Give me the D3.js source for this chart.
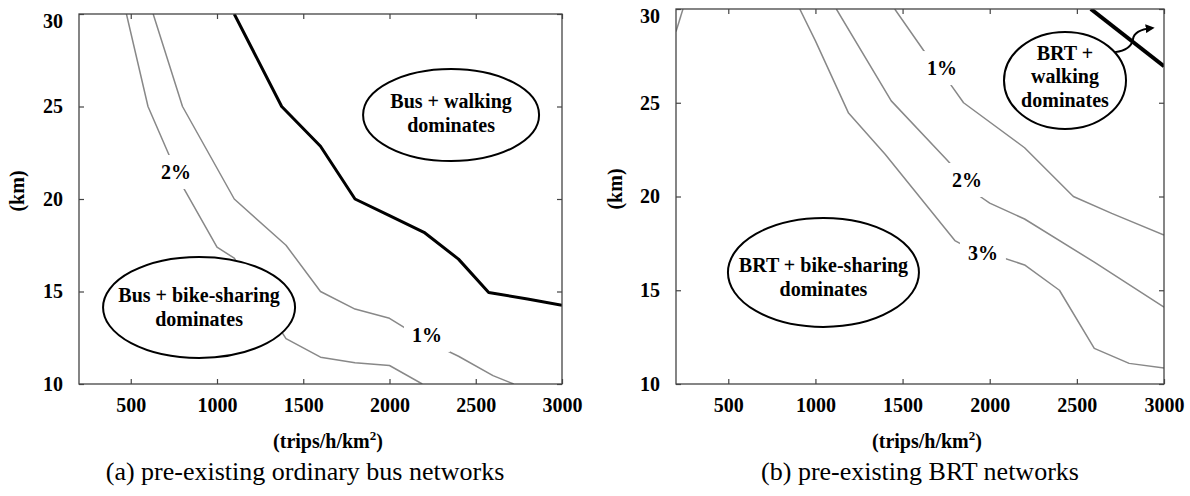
<!DOCTYPE html>
<html>
<head>
<meta charset="utf-8">
<script src="https://cdn.jsdelivr.net/npm/d3@7"></script>
<style>
  body { margin: 0; background: #fff; }
  svg { display: block; font-family: "Liberation Serif", "Times New Roman", serif; }
</style>
</head>
<body>
<svg id="chart" width="1190" height="496"></svg>
<script>
// ticks shared by both panels
const xTicks = [500, 1000, 1500, 2000, 2500, 3000];
const yTicks = [10, 15, 20, 25, 30];

// (a) ordinary bus  -  points are [demand (trips/h/km2), km]
const busWalkBoundary = [[1100, 30], [1375, 25], [1600, 22.85], [1800, 20], [2000, 19.1], [2200, 18.2], [2400, 16.75], [2575, 14.95], [2800, 14.6], [3000, 14.25]];
const bus1pct = [[630, 30], [800, 25], [1100, 20], [1400, 17.5], [1600, 15], [1800, 14.05], [2000, 13.55], [2200, 12.4], [2400, 11.5], [2600, 10.45], [2720, 10]];
const bus2pct = [[475, 30], [600, 25], [800, 20.7], [1000, 17.4], [1100, 16.8], [1400, 12.45], [1600, 11.45], [1800, 11.15], [2000, 11.0], [2190, 10]];

// (b) BRT
const brtWalkBoundary = [[2580, 30], [3000, 26.95]];
const brt1pct = [[1455, 30], [1620, 27.8], [1770, 26.05], [1850, 25.0], [2200, 22.6], [2480, 20], [2700, 19.1], [3000, 17.95]];
const brt2pct = [[1120, 30], [1435, 25.1], [1755, 21.95], [1945, 20], [2000, 19.65], [2200, 18.8], [2600, 16.5], [3000, 14.1]];
const brt3pct = [[910, 30], [1000, 28.3], [1190, 24.45], [1400, 22.25], [1800, 17.65], [1840, 17.45], [2200, 16.35], [2400, 15.0], [2600, 11.9], [2800, 11.1], [3000, 10.85]];
const brt4pct = [[200, 28.8], [240, 30]];

const captions = ["(a) pre-existing ordinary bus networks", "(b) pre-existing BRT networks"];

const panels = [
    {
        left: 79, right: 562, top: 14, bottom: 384,
        captionX: 305, titleX: 328, kmX: 17, kmY: 191,
        lines: [
            { data: bus2pct, color: "#888", width: 1.5 },
            { data: bus1pct, color: "#888", width: 1.5 },
            { data: busWalkBoundary, color: "#000", width: 3 }
        ],
        labels: [{ text: "2%", at: [762, 21.46] }, { text: "1%", at: [2217, 12.65] }],
        regions: [
            { lines: ["Bus + walking", "dominates"], at: [2357, 24.54], rx: 88, ry: 46, dy: -7 },
            { lines: ["Bus + bike-sharing", "dominates"], at: [896, 14.14], rx: 96, ry: 50.5, dy: -5 }
        ],
        caption: captions[0]
    },
    {
        left: 676, right: 1164, top: 9, bottom: 384,
        captionX: 920, titleX: 927, kmX: 615, kmY: 189,
        lines: [
            { data: brt4pct, color: "#888", width: 1.5 },
            { data: brt3pct, color: "#888", width: 1.5 },
            { data: brt2pct, color: "#888", width: 1.5 },
            { data: brt1pct, color: "#888", width: 1.5 },
            { data: brtWalkBoundary, color: "#000", width: 4 }
        ],
        labels: [{ text: "1%", at: [1726, 26.85] }, { text: "2%", at: [1870, 20.88] }, { text: "3%", at: [1961, 16.99] }],
        regions: [
            { lines: ["BRT +", "walking", "dominates"], at: [2432, 26.19], rx: 61, ry: 48.5, dy: -20.5,
              arrow: { from: [2719, 27.7], to: [2931, 28.99] } },
            { lines: ["BRT + bike-sharing", "dominates"], at: [1046, 15.95], rx: 95.5, ry: 54.5, dy: 0 }
        ],
        caption: captions[1]
    }
];

const svg = d3.select("#chart");

svg.append("defs").append("marker")
    .attr("id", "arrowhead")
    .attr("viewBox", "0 0 10 10")
    .attr("refX", 7).attr("refY", 5)
    .attr("markerWidth", 4.5).attr("markerHeight", 4.5)
    .attr("orient", "auto")
    .append("path")
    .attr("d", "M0,0L10,5L0,10z")
    .attr("fill", "#000");

panels.forEach((p, pi) => {
    const x = d3.scaleLinear().domain([200, 3000]).range([p.left, p.right]);
    const y = d3.scaleLinear().domain([10, 30]).range([p.bottom, p.top]);
    const g = svg.append("g");

    const clipId = "clip" + pi;
    g.append("clipPath").attr("id", clipId).append("rect")
        .attr("x", p.left).attr("y", p.top)
        .attr("width", p.right - p.left).attr("height", p.bottom - p.top);

    const line = d3.line().x(d => x(d[0])).y(d => y(d[1]));

    // contour lines
    g.append("g").attr("clip-path", `url(#${clipId})`)
        .selectAll("path")
        .data(p.lines)
        .enter().append("path")
        .attr("d", d => line(d.data))
        .attr("fill", "none")
        .attr("stroke", d => d.color)
        .attr("stroke-width", d => d.width)
        .attr("stroke-linejoin", "round");

    // contour labels (white box breaks the line)
    p.labels.forEach(l => {
        const lg = g.append("g");
        const t = lg.append("text")
            .attr("x", x(l.at[0])).attr("y", y(l.at[1]))
            .attr("dy", "0.35em")
            .attr("text-anchor", "middle")
            .attr("font-size", "20px")
            .attr("font-weight", "bold")
            .text(l.text);
        const bb = t.node().getBBox();
        lg.insert("rect", "text")
            .attr("x", bb.x - 8).attr("y", bb.y - 6)
            .attr("width", bb.width + 16).attr("height", bb.height + 12)
            .attr("fill", "#fff");
    });

    // region ellipses
    p.regions.forEach(r => {
        const cx = x(r.at[0]), cy = y(r.at[1]);
        g.append("ellipse")
            .attr("cx", cx).attr("cy", cy)
            .attr("rx", r.rx).attr("ry", r.ry)
            .attr("fill", "#fff")
            .attr("stroke", "#000")
            .attr("stroke-width", 2);
        g.append("g").selectAll("text")
            .data(r.lines)
            .enter().append("text")
            .attr("x", cx)
            .attr("y", (d, i) => cy + r.dy + i * 23.5)
            .attr("text-anchor", "middle")
            .attr("font-size", "20px")
            .attr("font-weight", "bold")
            .text(d => d);

        if (r.arrow) {
            const sx = x(r.arrow.from[0]), sy = y(r.arrow.from[1]);
            const ex = x(r.arrow.to[0]), ey = y(r.arrow.to[1]);
            const mx = sx + 18, my = sy - 13;
            const path = d3.path();
            path.moveTo(sx, sy);
            path.quadraticCurveTo(sx + 16, sy - 2, mx, my);
            path.quadraticCurveTo(mx + 1, ey + 2, ex, ey);
            g.append("path")
                .attr("d", path.toString())
                .attr("fill", "none")
                .attr("stroke", "#000")
                .attr("stroke-width", 2)
                .attr("marker-end", "url(#arrowhead)");
        }
    });

    // axes, ticks pointing inward on all four sides
    const styleAxis = a => {
        a.select(".domain").remove();
        a.attr("font-family", null).attr("font-size", null);
        a.selectAll(".tick line").attr("stroke", "#444").attr("stroke-width", 1.2);
        a.selectAll(".tick text")
            .attr("fill", "#000")
            .attr("font-size", "20px")
            .attr("font-weight", "bold");
    };

    g.append("g").attr("transform", `translate(0,${p.bottom})`)
        .call(d3.axisBottom(x).tickValues(xTicks).tickFormat(d3.format("d")).tickSize(-5).tickPadding(14))
        .call(styleAxis);
    g.append("g").attr("transform", `translate(0,${p.top})`)
        .call(d3.axisTop(x).tickValues(xTicks).tickSize(-5).tickFormat(""))
        .call(styleAxis);
    const yAx = g.append("g").attr("transform", `translate(${p.left},0)`)
        .call(d3.axisLeft(y).tickValues(yTicks).tickFormat(d3.format("d")).tickSize(-5).tickPadding(16))
        .call(styleAxis);
    g.append("g").attr("transform", `translate(${p.right},0)`)
        .call(d3.axisRight(y).tickValues(yTicks).tickSize(-5).tickFormat(""))
        .call(styleAxis);

    // top label sits a little below its tick
    yAx.selectAll(".tick").filter(d => d === 30).select("text").attr("transform", "translate(0,7)");

    // frame
    g.append("rect")
        .attr("x", p.left).attr("y", p.top)
        .attr("width", p.right - p.left).attr("height", p.bottom - p.top)
        .attr("fill", "none")
        .attr("stroke", "#444")
        .attr("stroke-width", 1.3);

    // axis titles
    g.append("text")
        .attr("transform", `translate(${p.kmX},${p.kmY}) rotate(-90)`)
        .attr("text-anchor", "middle")
        .attr("dy", "0.35em")
        .attr("font-size", "20px")
        .attr("font-weight", "bold")
        .text("(km)");

    const title = g.append("text")
        .attr("x", p.titleX).attr("y", 448)
        .attr("text-anchor", "middle")
        .attr("font-size", "20px")
        .attr("font-weight", "bold");
    title.append("tspan").text("(trips/h/km");
    title.append("tspan").attr("font-size", "13px").attr("dy", -8).text("2");
    title.append("tspan").attr("dy", 8).text(")");

    g.append("text")
        .attr("x", p.captionX).attr("y", 480)
        .attr("text-anchor", "middle")
        .attr("font-size", "26px")
        .text(p.caption);
});
</script>
</body>
</html>
